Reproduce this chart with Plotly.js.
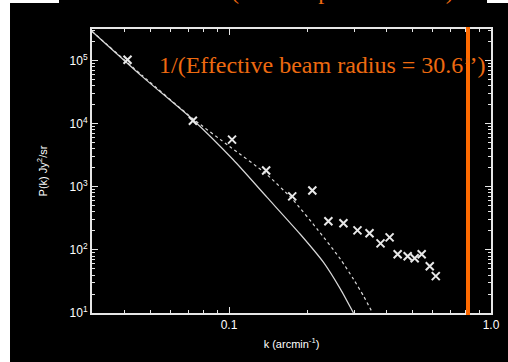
<!DOCTYPE html>
<html>
<head>
<meta charset="utf-8">
<script src="https://cdn.plot.ly/plotly-3.0.1.min.js"></script>
<style>html,body{margin:0;padding:0;background:#fff;}#chart{width:508px;height:362px;}</style>
</head>
<body>
<div id="chart"></div>
<script>
// Measured power spectrum points (k in arcmin^-1, P in Jy^2/sr)
const dataK = [0.0410, 0.0728, 0.1027, 0.1386, 0.1743, 0.2080, 0.2395, 0.2734, 0.3093, 0.3439, 0.3788, 0.4102, 0.4403, 0.4808, 0.5114, 0.5438, 0.5838, 0.6155];
const dataP = [1.03e5, 1.115e4, 5590, 1811, 704, 875, 284, 264, 204, 183, 127, 158, 85.4, 79.4, 73.9, 85.4, 55.2, 38.4];

// Model curve 1 (lower, steeper)
const modelAK = [0.0299, 0.0468, 0.0728, 0.1036, 0.1398, 0.1871, 0.2292, 0.2663, 0.2986];
const modelAP = [2.94e5, 5.52e4, 1.156e4, 2703, 679, 177, 63.9, 23.9, 10];

// Model curve 2 (upper)
const modelBK = [0.0299, 0.0468, 0.0728, 0.1009, 0.1374, 0.1743, 0.2174, 0.2663, 0.2986, 0.3262, 0.3532];
const modelBP = [2.94e5, 5.73e4, 1.2e4, 4300, 1650, 640, 212, 71.3, 34.4, 18.6, 10];

// Beam scale marker
const kBeam = 0.817;
const beamLabel = "1/(Effective beam radius = 30.6\u2019\u2019)";
const topTitle = "(without point sources)";

// Axis ticks
const xTickVals = [0.1, 1.0];
const xTickText = ["0.1", "1.0"];
const xMinor = [0.04, 0.05, 0.06, 0.07, 0.08, 0.09, 0.2, 0.3, 0.4, 0.5, 0.6, 0.7, 0.8, 0.9];
const yTickVals = [10, 100, 1000, 10000, 100000];
const yTickText = ["10<sup>1</sup>", "10<sup>2</sup>", "10<sup>3</sup>", "10<sup>4</sup>", "10<sup>5</sup>"];
const yMinor = [];
for (const d of [10, 100, 1000, 10000, 100000]) for (const m of [2,3,4,5,6,7,8,9]) yMinor.push(d*m);

const fg = '#e6e6e6';
const orange = '#FF6A00';

const traces = [
  {x: modelAK, y: modelAP, mode: 'lines', line: {color: '#d8d8d8', width: 1.2, shape: 'spline', smoothing: 0.6}, hoverinfo: 'skip'},
  {x: modelBK, y: modelBP, mode: 'lines', line: {color: '#d8d8d8', width: 1.2, dash: 'dot', shape: 'spline', smoothing: 0.6}, hoverinfo: 'skip'},
  {x: dataK, y: dataP, mode: 'markers', marker: {symbol: 'x-thin', size: 8, line: {color: '#e8e8e8', width: 2}}}
];

const axisCommon = {
  type: 'log', showgrid: false, zeroline: false, showline: true, linecolor: fg, linewidth: 2,
  mirror: 'allticks', ticks: 'inside', ticklen: 6, tickwidth: 1, tickcolor: fg,
  tickfont: {family: 'Liberation Sans, Arial, sans-serif', size: 12, color: '#ffffff'},
  tickmode: 'array'
};

const layout = {
  width: 508, height: 362,
  margin: {l: 92, r: 17, t: 29, b: 49},
  paper_bgcolor: '#ffffff', plot_bgcolor: '#000000',
  showlegend: false,
  xaxis: Object.assign({}, axisCommon, {
    range: [Math.log10(0.03), Math.log10(1.0)],
    tickvals: xTickVals, ticktext: xTickText,
    minor: {tickvals: xMinor, ticks: 'inside', ticklen: 3, tickcolor: fg, showgrid: false},
    title: {text: 'k (arcmin<sup>-1</sup>)', font: {family: 'Liberation Sans, Arial, sans-serif', size: 11, color: '#ffffff'}, standoff: 9}
  }),
  yaxis: Object.assign({}, axisCommon, {
    range: [1, 5.5],
    tickvals: yTickVals, ticktext: yTickText,
    minor: {tickvals: yMinor, ticks: 'inside', ticklen: 3, tickcolor: fg, showgrid: false},
    title: {text: 'P(k) Jy<sup>2</sup>/sr', font: {family: 'Liberation Sans, Arial, sans-serif', size: 11, color: '#ffffff'}, standoff: 20}
  }),
  shapes: [
    {type: 'rect', xref: 'paper', yref: 'paper', x0: -0.2055, x1: 1.1, y0: -0.2, y1: 1.0915, fillcolor: '#000000', line: {width: 0}, layer: 'below'},
    {type: 'rect', xref: 'paper', yref: 'paper', x0: -0.0827, x1: 0.99, y0: 1.09, y1: 1.2, fillcolor: '#000000', line: {width: 0}, layer: 'below'},
    {type: 'line', xref: 'x', yref: 'paper', x0: kBeam, x1: kBeam, y0: -0.007, y1: 1.007, line: {color: orange, width: 4}}
  ],
  annotations: [
    {xref: 'paper', yref: 'paper', x: 0.163, y: 0.875, xanchor: 'left', yanchor: 'middle', showarrow: false,
     text: beamLabel, font: {family: 'Liberation Serif, Times New Roman, serif', size: 24, color: '#EE6A10'}},
    {xref: 'paper', yref: 'paper', x: 0.629, y: 1.081, xanchor: 'center', yanchor: 'bottom', showarrow: false,
     text: topTitle, font: {family: 'Liberation Serif, Times New Roman, serif', size: 24, color: '#EE6A10'}}
  ]
};

Plotly.newPlot('chart', traces, layout, {staticPlot: true, displayModeBar: false});
</script>
</body>
</html>
